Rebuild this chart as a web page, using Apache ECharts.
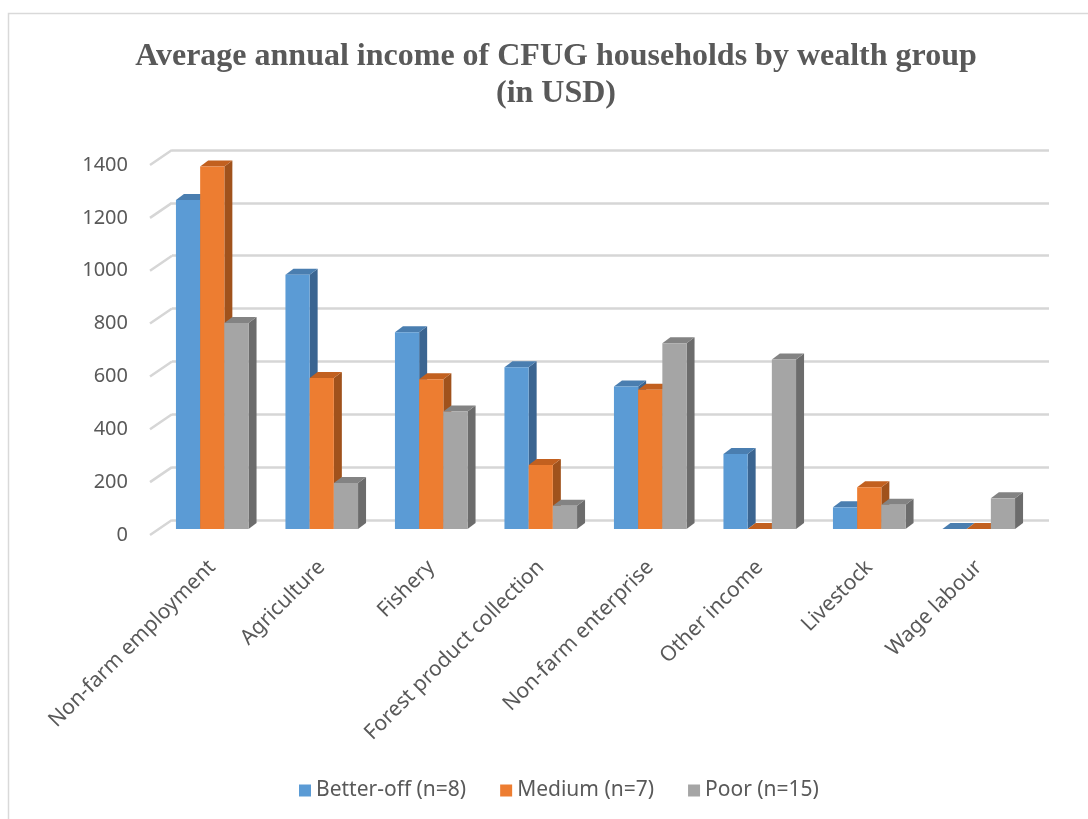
<!DOCTYPE html>
<html>
<head>
<meta charset="utf-8">
<script src="https://cdn.jsdelivr.net/npm/echarts@6/dist/echarts.min.js"></script>
<style>
html,body{margin:0;padding:0;background:#fff;}
#chart{width:1088px;height:819px;}
</style>
</head>
<body>
<div id="chart"></div>
<script>
// ---- data ----
const categories = ['Non-farm employment', 'Agriculture', 'Fishery', 'Forest product collection', 'Non-farm enterprise', 'Other income', 'Livestock', 'Wage labour'];
const betterOff = [1245, 962, 744, 612, 539, 284, 82, 0];
const medium = [1372, 571, 567, 242, 527, 0, 158, 0];
const poor = [779, 174, 445, 88, 703, 641, 92, 116];
const seriesNames = ['Better-off (n=8)', 'Medium (n=7)', 'Poor (n=15)'];
const yMin = 0, yMax = 1400, yStep = 200;
const yTicks = [0, 200, 400, 600, 800, 1000, 1200, 1400];
const titleText = 'Average annual income of CFUG households by wealth group\n(in USD)';

// ---- styles ----
const frontColors = ['#5B9BD5', '#ED7D31', '#A5A5A5'];
const topColors = ['#4A7EB0', '#C2601F', '#838383'];
const sideColors = ['#3B6591', '#A0521C', '#6C6C6C'];
const textColor = '#595959';
const gridColor = '#D6D6D6';
const DX = 8, DY = 6;

function barRender(si) {
  return function (params, api) {
    const idx = api.value(0), val = api.value(1);
    const band = api.size([1, 0])[0];
    const c = api.coord([idx, val]);
    const b = api.coord([idx, 0]);
    const bw = band * 0.221;
    const x0 = c[0] - 1.5 * bw + si * bw;
    const yT = c[1], yB = b[1];
    return {
      type: 'group',
      children: [
        { type: 'polygon', shape: { points: [[x0 + bw, yT], [x0 + bw + DX, yT - DY], [x0 + bw + DX, yB - DY], [x0 + bw, yB]] }, style: { fill: sideColors[si] } },
        { type: 'polygon', shape: { points: [[x0, yT], [x0 + DX, yT - DY], [x0 + bw + DX, yT - DY], [x0 + bw, yT]] }, style: { fill: topColors[si] } },
        { type: 'rect', shape: { x: x0, y: yT, width: bw, height: yB - yT }, style: { fill: frontColors[si] } }
      ]
    };
  };
}

function diagRender(params, api) {
  const p = api.coord([0, api.value(1)]);
  return {
    type: 'line',
    shape: { x1: p[0], y1: p[1], x2: p[0] + 22, y2: p[1] - 15 },
    style: { stroke: gridColor, lineWidth: 2.5 }
  };
}

const valueAxisBase = { type: 'value', min: yMin, max: yMax, interval: yStep };
const allSeries = [betterOff, medium, poor];

const option = {
  animation: false,
  backgroundColor: '#fff',
  title: {
    text: titleText,
    left: 551,
    top: 33,
    textAlign: 'center',
    textStyle: { fontFamily: 'Liberation Serif', fontWeight: 'bold', fontSize: 32, color: textColor, lineHeight: 37 }
  },
  legend: {
    bottom: 13,
    left: 294,
    icon: 'rect',
    itemWidth: 12,
    itemHeight: 12,
    itemGap: 34,
    data: seriesNames,
    textStyle: { fontFamily: 'Noto Sans', fontSize: 21, color: textColor }
  },
  graphic: [
    { type: 'rect', shape: { x: 8.5, y: 13.5, width: 1200, height: 1000 }, style: { fill: 'none', stroke: '#D9D9D9', lineWidth: 1.5 }, z: -10 }
  ],
  grid: [
    { left: 172, right: 39, top: 150, height: 370 },
    { left: 157.5, width: 876, top: 159, height: 370 },
    { left: 150, width: 22, top: 165, height: 370 }
  ],
  xAxis: [
    { gridIndex: 0, type: 'value', min: 0, max: 1, show: false },
    { gridIndex: 1, type: 'category', data: categories,
      axisLine: { show: false }, axisTick: { show: false },
      axisLabel: { rotate: 45, margin: 35, interval: 0, fontFamily: 'Noto Sans', fontSize: 21, color: textColor } },
    { gridIndex: 2, type: 'value', min: 0, max: 1, show: false }
  ],
  yAxis: [
    Object.assign({ gridIndex: 0, axisLabel: { show: false }, axisLine: { show: false }, axisTick: { show: false },
      splitLine: { show: true, lineStyle: { color: gridColor, width: 2.5 } } }, valueAxisBase),
    Object.assign({ gridIndex: 1, show: false, splitLine: { show: false } }, valueAxisBase),
    Object.assign({ gridIndex: 2, axisLine: { show: false }, axisTick: { show: false }, splitLine: { show: false },
      axisLabel: { margin: 22, fontFamily: 'Noto Sans', fontSize: 20, color: textColor, formatter: v => String(v) } }, valueAxisBase)
  ],
  series: [
    { type: 'custom', name: 'ticks', xAxisIndex: 2, yAxisIndex: 2, renderItem: diagRender,
      data: yTicks.map(v => [0, v]), silent: true }
  ].concat(allSeries.map((arr, si) => ({
    type: 'custom',
    name: seriesNames[si],
    xAxisIndex: 1, yAxisIndex: 1,
    itemStyle: { color: frontColors[si] },
    renderItem: barRender(si),
    encode: { x: 0, y: 1 },
    data: arr.map((v, i) => [i, v])
  })))
};

const chart = echarts.init(document.getElementById('chart'), null, { renderer: 'canvas' });
chart.setOption(option);
</script>
</body>
</html>
